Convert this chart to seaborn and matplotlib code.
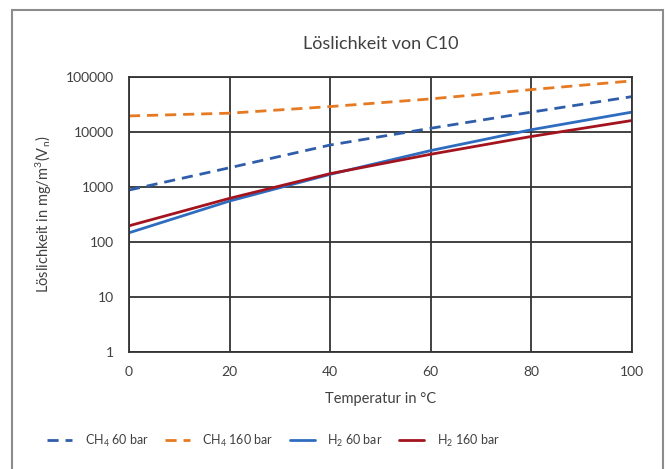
import matplotlib
matplotlib.use("Agg")
import matplotlib.pyplot as plt
import seaborn as sns
import pandas as pd
from matplotlib.patches import Rectangle

temperature = [0, 20, 40, 60, 80, 100]
ch4_60 = [880, 2240, 5800, 11700, 23000, 44000]
ch4_160 = [19600, 22000, 29000, 40000, 59000, 85000]
h2_60 = [147, 556, 1700, 4600, 11000, 23000]
h2_160 = [197, 622, 1750, 3940, 8300, 16200]

series_names = ["CH$_4$ 60 bar", "CH$_4$ 160 bar", "H$_2$ 60 bar", "H$_2$ 160 bar"]
series_values = [ch4_60, ch4_160, h2_60, h2_160]
series_colors = ["#2F5DAA", "#E57A22", "#2E6CC0", "#A3141F"]
series_dashed = [True, True, False, False]

y_ticks = [1, 10, 100, 1000, 10000, 100000]
y_ticklabels = ["1", "10", "100", "1000", "10000", "100000"]
x_ticks = [0, 20, 40, 60, 80, 100]

sns.set_theme(style="white")
plt.rcParams["font.family"] = ["Lato", "DejaVu Sans"]
plt.rcParams["mathtext.default"] = "regular"

fig = plt.figure(figsize=(6.67, 4.69), dpi=100)
ax = fig.add_axes([0.1934, 0.2495, 0.7541, 0.5863])

df = pd.concat(
    [pd.DataFrame({"T": temperature, "v": vals, "s": name})
     for name, vals in zip(series_names, series_values)],
    ignore_index=True,
)

for name, color, dashed in zip(series_names, series_colors, series_dashed):
    sub = df[df["s"] == name]
    line_kw = dict(dashes=(4, 2.5)) if dashed else {}
    sns.lineplot(data=sub, x="T", y="v", ax=ax, color=color, linewidth=2.0,
                 label=name, **line_kw)

ax.set_yscale("log")
ax.set_ylim(1, 100000)
ax.set_xlim(0, 100)
ax.set_yticks(y_ticks)
ax.set_yticklabels(y_ticklabels)
ax.minorticks_off()
ax.set_xticks(x_ticks)
ax.grid(True, color="#333333", linewidth=1.3)
for sp in ax.spines.values():
    sp.set_color("#333333")
    sp.set_linewidth(1.3)
ax.tick_params(axis="y", length=0, labelsize=10, colors="#404040", pad=11)
ax.tick_params(axis="x", length=0, labelsize=10, colors="#404040", pad=10)
ax.set_xlabel("Temperatur in °C", fontsize=10.5, color="#404040", labelpad=10)
ax.set_ylabel("Löslichkeit in mg/m$^3$(V$_n$)", fontsize=10.5, color="#404040", labelpad=8)
ax.set_title("Löslichkeit von C10", fontsize=13, color="#404040", pad=20)

handles, labels = ax.get_legend_handles_labels()
ax.get_legend().remove()
fig.legend(handles, labels, loc="center", bbox_to_anchor=(0.41, 0.06), ncol=4,
           frameon=False, fontsize=9, handlelength=2.0, handletextpad=1.0,
           columnspacing=1.3, labelcolor="#404040")

fig.patches.append(Rectangle((12 / 667, -0.1), 651 / 667, 1.1 - 10 / 469,
                             transform=fig.transFigure, fill=False,
                             edgecolor="#8c8c8c", linewidth=1.5))

fig.savefig("out.png", dpi=100)
